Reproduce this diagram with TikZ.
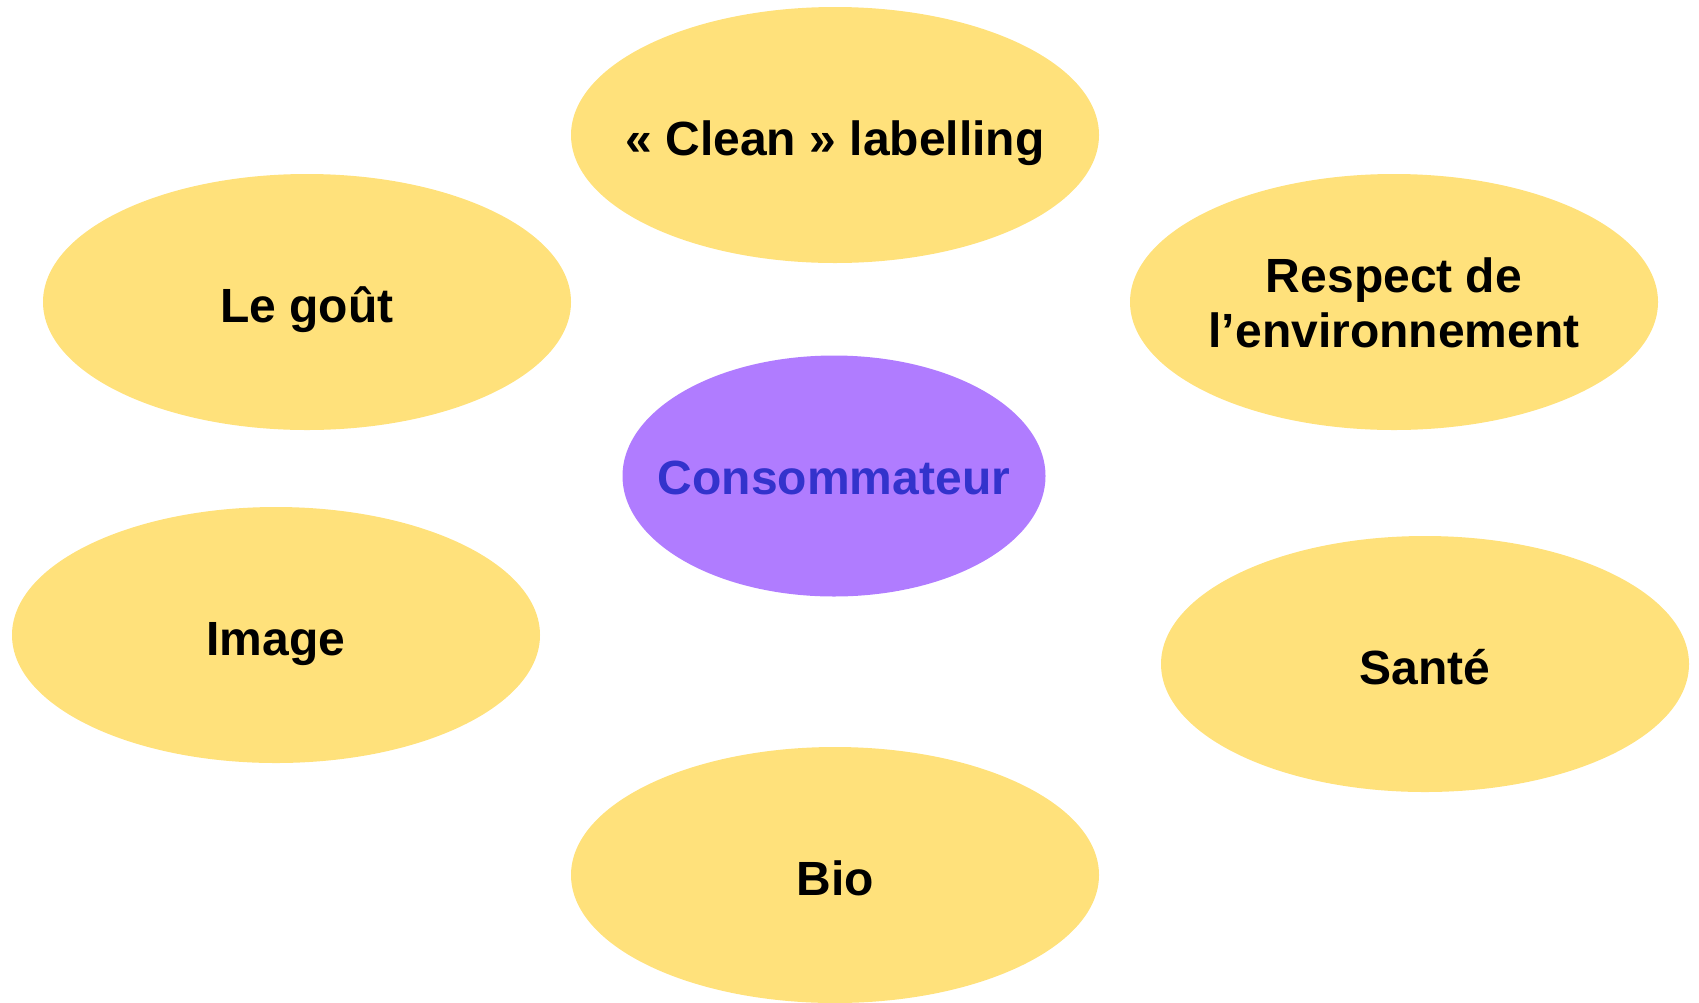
\documentclass[tikz,border=0pt]{standalone}
\usepackage{fontspec}
\setmainfont{Liberation Sans}
\usetikzlibrary{shapes.geometric}
\definecolor{jaune}{HTML}{FFE17B}
\definecolor{violet}{HTML}{B07CFF}
\definecolor{bleu}{HTML}{3333CC}
\def\rx{528pt}
\def\ry{256pt}
\newcommand{\txt}[2][-20pt]{\raisebox{#1}[0pt][0pt]{\makebox[0pt]{\begin{tabular}[t]{@{}c@{}}#2\end{tabular}}}}
\begin{document}
\begin{tikzpicture}[x=1pt, y=-1pt]
			\tikzset{bulle/.style={ellipse, fill=jaune, minimum width=\rx, minimum height=\ry, inner sep=0pt, font=\fontsize{48}{55}\selectfont\bfseries}}
			\useasboundingbox (0,0) rectangle (1699,1002);
			\node[bulle](clean) at (835,135){\txt{« Clean » labelling}};
			\node[bulle](gout) at (307,302){\txt{Le goût}};
			\node[bulle](respect) at (1394,302){\txt[10pt]{Respect de\\l’environnement}};
			\node[bulle](image) at (276,635){\txt{Image}};
			\node[bulle](sante) at (1425,664){\txt{Santé}};
			\node[bulle](bio) at (835,875){\txt{Bio}};
			\node[bulle, fill=violet, text=bleu, minimum width=423pt, minimum height=241pt](conso) at (834,476){\txt[-18pt]{Consommateur}};
		\end{tikzpicture}
\end{document}
